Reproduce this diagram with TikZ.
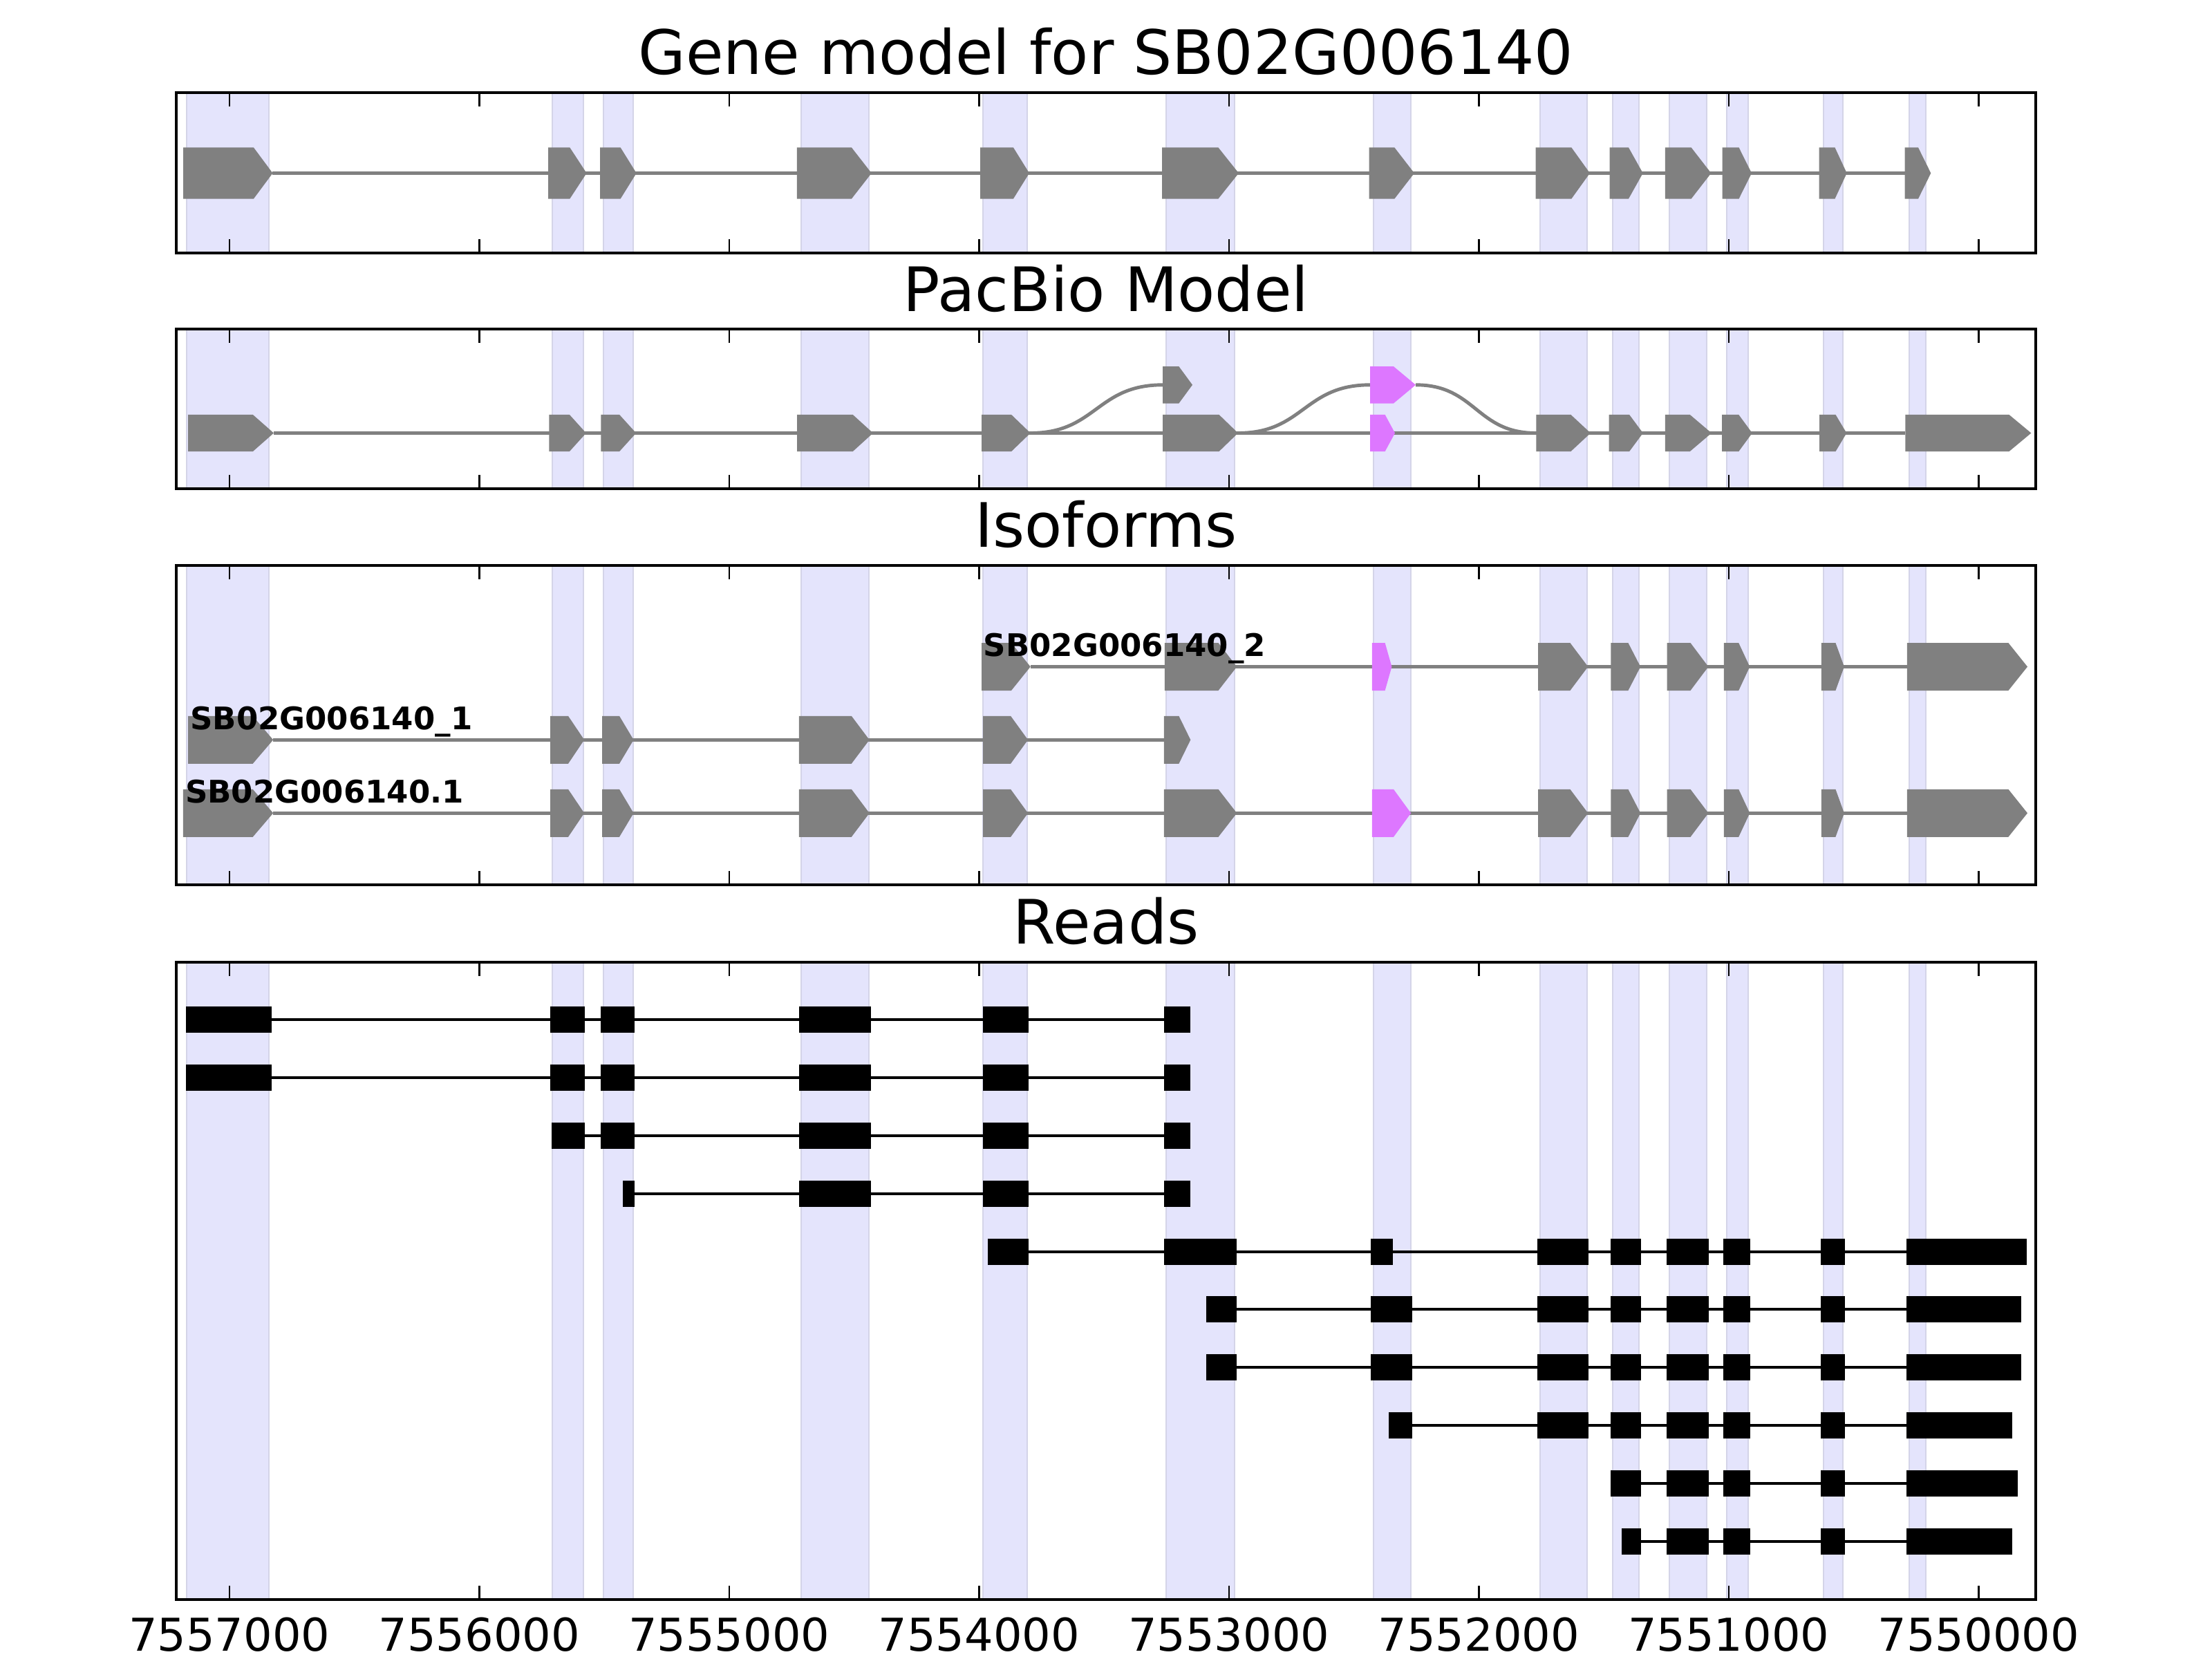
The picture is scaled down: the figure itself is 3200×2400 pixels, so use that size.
\documentclass[tikz,border=0pt]{standalone}
\usepackage{fontspec}
\setmainfont{DejaVu Sans}

\definecolor{exongray}{HTML}{808080}
\definecolor{exonpink}{HTML}{DD77FF}
\definecolor{bandfill}{RGB}{228,228,252}
\definecolor{bandedge}{RGB}{212,212,232}

\tikzset{
  axframe/.style={line width=1.3pt},
  axtick/.style={line width=0.7pt},
  intron/.style={exongray, line width=1.4pt},
  readline/.style={black, line width=1.4pt},
  exonband/.style={fill=bandfill, draw=bandedge, line width=0.6pt},
  paneltitle/.style={anchor=base, inner sep=0pt, font=\fontsize{25.2}{30}\selectfont},
  isolabel/.style={anchor=base west, inner sep=0pt, font=\bfseries\fontsize{12.8}{15}\selectfont},
  ticklabel/.style={anchor=base, inner sep=0pt, font=\fontsize{18.6}{22}\selectfont},
}

% x0, flat end, tip, centre, half height
\newcommand{\exon}[5]{\fill (#1,#4-#5) -- (#2,#4-#5) -- (#3,#4) -- (#2,#4+#5) -- (#1,#4+#5) -- cycle;}
% centre, first x, last x, blocks
\newcommand{\readrow}[4]{%
  \draw[readline] (#2,#1) -- (#3,#1);
  \foreach \a/\b in {#4} {\fill (\a,#1-19) rectangle (\b,#1+19);}}

\begin{document}
\begin{tikzpicture}[x=0.01cm, y=-0.01cm]
\useasboundingbox (0,0) rectangle (3200,2400);

% exon bands
\foreach \top/\bot in {134/366, 476/707, 818/1280, 1392/2314}
  \foreach \a/\b in {270/389, 799/844, 873/916, 1159/1257, 1422/1486, 1687/1786, 1987/2041,
                     2228/2296, 2333/2371, 2415/2469, 2498/2529, 2638/2666, 2762/2786}
    {\draw[exonband] (\a,\top) rectangle (\b,\bot);}

% gene model
\draw[intron] (394,250.5) -- (2756,250.5);
\begin{scope}[fill=exongray]
\foreach \a/\b/\c in {265/367/394.5, 793/824.4/848.6, 868/897.7/920.7, 1152.8/1232/1260.8,
                      1418/1466/1489, 1681/1762.5/1792, 1980.6/2017.4/2046, 2221.7/2273.4/2300,
                      2328.5/2356/2376.7, 2408.8/2446.7/2475.4, 2491.5/2515.6/2534,
                      2631.5/2654.5/2671.7, 2755.5/2775/2793.3}
  {\exon{\a}{\b}{\c}{250.5}{37}}
\end{scope}

% pacbio model
\draw[intron] (396,626.5) -- (2756,626.5);
\draw[intron] (1490.7,626.5) .. controls (1586,626.5) and (1586,556.8) .. (1682,556.8);
\draw[intron] (1791,626.5) .. controls (1886,626.5) and (1886,556.8) .. (1982,556.8);
\draw[intron] (2048,556.8) .. controls (2135,556.8) and (2135,626.5) .. (2222,626.5);
\begin{scope}[fill=exongray]
\foreach \a/\b/\c in {272/365.7/396, 794.3/823.8/847.9, 869.3/896/920.2, 1153.2/1233.6/1263,
                      1420.2/1463/1490.7, 1682/1763.4/1791, 2222.3/2272.3/2301, 2327.7/2357/2376.8,
                      2408.9/2444.6/2476, 2491/2515.2/2534.8, 2632/2655.4/2671.4, 2756.3/2906.3/2938.4}
  {\exon{\a}{\b}{\c}{626.5}{26.7}}
\exon{1682}{1705.4}{1725}{556.8}{26.7}
\end{scope}
\begin{scope}[fill=exonpink]
\exon{1982}{2003.6}{2018}{626.5}{26.7}
\exon{1982}{2016}{2048}{556.8}{26.7}
\end{scope}

% isoforms
\draw[intron] (1490.7,964.5) -- (2758.9,964.5);
\draw[intron] (395.2,1070.3) -- (1683.9,1070.3);
\draw[intron] (395.2,1176.3) -- (2758.9,1176.3);
\begin{scope}[fill=exongray]
\foreach \y in {964.5, 1176.3}
  \foreach \a/\b/\c in {2225/2271.4/2297.3, 2330.4/2355.4/2373.2, 2411.6/2445.5/2471.4,
                        2493.8/2515.2/2531.3, 2634.8/2655.4/2667.9, 2758.9/2905.4/2933}
    {\exon{\a}{\b}{\c}{\y}{34.5}}
\foreach \y in {1070.3, 1176.3}
  \foreach \a/\b/\c in {796/822/845.2, 871/896/916.6, 1155.9/1231.8/1257.7, 1422/1462.1/1487.1}
    {\exon{\a}{\b}{\c}{\y}{34.5}}
\exon{1420.2}{1463}{1490.7}{964.5}{34.5}
\exon{1684.8}{1762.5}{1789.3}{964.5}{34.5}
\exon{272}{365.7}{395.2}{1070.3}{34.5}
\exon{1683.9}{1705.4}{1722.3}{1070.3}{34.5}
\exon{264.8}{365.7}{395.2}{1176.3}{34.5}
\exon{1683.9}{1762.5}{1789.3}{1176.3}{34.5}
\end{scope}
\begin{scope}[fill=exonpink]
\exon{1984.8}{2003.6}{2013.4}{964.5}{34.5}
\exon{1984.8}{2016}{2041.1}{1176.3}{34.5}
\end{scope}
\node[isolabel] (iso2) at (1422,949) {SB02G006140\_2};
\node[isolabel] (iso1) at (274.6,1055) {SB02G006140\_1};
\node[isolabel] (isoref) at (267.5,1161) {SB02G006140.1};

% reads
\readrow{1475}{269}{1722}{269/393, 796/846, 869/918, 1156/1260, 1422/1488, 1684/1722}
\readrow{1559}{269}{1722}{269/393, 796/846, 869/918, 1156/1260, 1422/1488, 1684/1722}
\readrow{1643}{798}{1722}{798/846, 869/918, 1156/1260, 1422/1488, 1684/1722}
\readrow{1727}{901}{1722}{901/918, 1156/1260, 1422/1488, 1684/1722}
\readrow{1811}{1429}{2932}{1429/1488, 1684/1789, 1983/2015, 2224/2298, 2330/2374, 2411/2472, 2493/2532, 2634/2669, 2758/2932}
\readrow{1894}{1745}{2924}{1745/1789, 1983/2043, 2224/2298, 2330/2374, 2411/2472, 2493/2532, 2634/2669, 2758/2924}
\readrow{1978}{1745}{2924}{1745/1789, 1983/2043, 2224/2298, 2330/2374, 2411/2472, 2493/2532, 2634/2669, 2758/2924}
\readrow{2062}{2009}{2911}{2009/2043, 2224/2298, 2330/2374, 2411/2472, 2493/2532, 2634/2669, 2758/2911}
\readrow{2146}{2330}{2919}{2330/2374, 2411/2472, 2493/2532, 2634/2669, 2758/2919}
\readrow{2230}{2346}{2911}{2346/2374, 2411/2472, 2493/2532, 2634/2669, 2758/2911}

% frames and ticks
\foreach \top/\bot in {134/366, 476/707, 818/1280, 1392/2314} {
  \draw[axframe] (255,\top) rectangle (2945,\bot);
  \foreach \i in {0,...,7} {
    \draw[axtick] ({331.8+361.5*\i},\top) -- ++(0,20);
    \draw[axtick] ({331.8+361.5*\i},\bot) -- ++(0,-20);
  }
}
\foreach \i/\lab in {0/7557000, 1/7556000, 2/7555000, 3/7554000, 4/7553000, 5/7552000, 6/7551000, 7/7550000}
  {\node[ticklabel] (tick\i) at ({331.8+361.5*\i},2388) {\lab};}

% titles
\node[paneltitle] (genetitle) at (1600,108) {Gene model for SB02G006140};
\node[paneltitle] (pacbiotitle) at (1600,450) {PacBio Model};
\node[paneltitle] (isotitle) at (1600,791) {Isoforms};
\node[paneltitle] (readtitle) at (1600,1365) {Reads};

\end{tikzpicture}
\end{document}
